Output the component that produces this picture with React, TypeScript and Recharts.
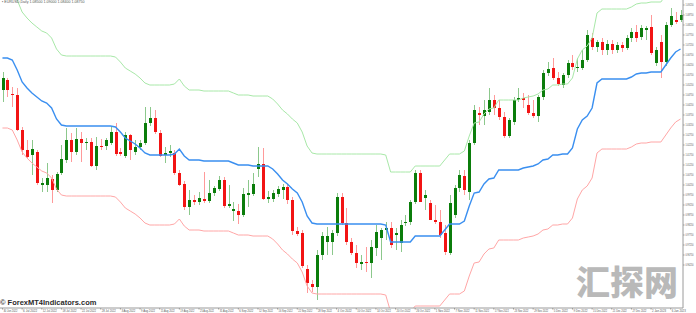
import { ComposedChart, Bar, Line, XAxis, YAxis } from 'recharts';

// EURUSD daily
const dateLabels = [
  '30 Jun 2022', '6 Jul 2022', '12 Jul 2022', '18 Jul 2022', '22 Jul 2022', '28 Jul 2022',
  '3 Aug 2022', '9 Aug 2022', '15 Aug 2022', '19 Aug 2022', '25 Aug 2022', '31 Aug 2022',
  '6 Sep 2022', '12 Sep 2022', '16 Sep 2022', '22 Sep 2022', '28 Sep 2022', '4 Oct 2022',
  '10 Oct 2022', '14 Oct 2022', '20 Oct 2022', '26 Oct 2022', '1 Nov 2022', '7 Nov 2022',
  '11 Nov 2022', '17 Nov 2022', '23 Nov 2022', '29 Nov 2022', '5 Dec 2022', '9 Dec 2022',
  '15 Dec 2022', '21 Dec 2022', '27 Dec 2022', '2 Jan 2023', '6 Jan 2023',
];

const priceTicks = [
  1.0925, 1.0875, 1.0825, 1.0775, 1.0725, 1.0675, 1.0625, 1.0575, 1.0525, 1.0475,
  1.0425, 1.0375, 1.0325, 1.0275, 1.0225, 1.0175, 1.0125, 1.0075, 1.0025, 0.9975,
  0.9925, 0.9875, 0.9825, 0.9775, 0.9725, 0.9675, 0.9625,
];

const open = [
  1.0500, 1.0550, 1.0480, 1.0475, 1.0300, 1.0200, 1.0175, 1.0190, 1.0025, 1.0025,
  1.0055, 1.0000, 1.0085, 1.0150, 1.0250, 1.0190, 1.0255, 1.0235, 1.0240, 1.0120,
  1.0220, 1.0220, 1.0235, 1.0290, 1.0190, 1.0170, 1.0275, 1.0190, 1.0215, 1.0235,
  1.0335, 1.0360, 1.0285, 1.0175, 1.0185, 1.0185, 1.0085, 1.0030, 0.9915, 0.9950,
  0.9940, 0.9955, 0.9945, 0.9985, 1.0005, 1.0050, 0.9920, 0.9895, 0.9895, 0.9875,
  0.9975, 0.9980, 1.0105, 1.0130, 0.9955, 0.9955, 0.9980, 1.0000, 1.0015, 0.9950,
  0.9795, 0.9785, 0.9605, 0.9530, 0.9515, 0.9675, 0.9740, 0.9740, 0.9785, 0.9965,
  0.9835, 0.9740, 0.9685, 0.9630, 0.9640, 0.9635, 0.9710, 0.9760, 0.9800, 0.9810,
  0.9775, 0.9735, 0.9835, 0.9840, 0.9940, 1.0085, 0.9960, 0.9935, 0.9850, 0.9840,
  0.9785, 0.9685, 0.9875, 1.0010, 1.0070, 0.9990, 1.0235, 1.0385, 1.0370, 1.0390,
  1.0450, 1.0410, 1.0365, 1.0270, 1.0340, 1.0450, 1.0460, 1.0425, 1.0385, 1.0370,
  1.0465, 1.0585, 1.0610, 1.0560, 1.0525, 1.0575, 1.0635, 1.0610, 1.0610, 1.0650,
  1.0760, 1.0715, 1.0740, 1.0700, 1.0730, 1.0700, 1.0725, 1.0710, 1.0760, 1.0790,
  1.0765, 1.0800, 1.0815, 1.0635, 1.0740, 1.0640, 1.0825, 1.0850, 1.0850,
];
const high = [
  1.0590, 1.0560, 1.0515, 1.0510, 1.0315, 1.0250, 1.0250, 1.0200, 1.0060, 1.0135,
  1.0075, 1.0090, 1.0225, 1.0310, 1.0285, 1.0310, 1.0290, 1.0260, 1.0260, 1.0265,
  1.0255, 1.0260, 1.0315, 1.0335, 1.0210, 1.0290, 1.0280, 1.0250, 1.0250, 1.0415,
  1.0415, 1.0400, 1.0300, 1.0215, 1.0225, 1.0200, 1.0100, 1.0045, 1.0000, 0.9975,
  0.9990, 1.0090, 1.0050, 1.0020, 1.0070, 1.0065, 1.0025, 0.9940, 0.9930, 1.0010,
  1.0050, 1.0085, 1.0215, 1.0210, 0.9995, 1.0000, 1.0020, 1.0030, 1.0030, 0.9965,
  0.9815, 0.9800, 0.9625, 0.9550, 0.9700, 0.9790, 0.9815, 0.9800, 0.9985, 0.9985,
  0.9910, 0.9760, 0.9725, 0.9675, 0.9715, 0.9750, 0.9825, 0.9810, 0.9840, 0.9840,
  0.9810, 0.9850, 0.9875, 0.9950, 1.0100, 1.0100, 1.0000, 0.9950, 0.9925, 0.9900,
  0.9825, 0.9975, 1.0025, 1.0100, 1.0100, 1.0250, 1.0425, 1.0415, 1.0450, 1.0510,
  1.0475, 1.0450, 1.0390, 1.0360, 1.0465, 1.0510, 1.0485, 1.0475, 1.0450, 1.0475,
  1.0600, 1.0640, 1.0660, 1.0590, 1.0585, 1.0650, 1.0675, 1.0660, 1.0700, 1.0800,
  1.0785, 1.0750, 1.0760, 1.0750, 1.0750, 1.0740, 1.0740, 1.0775, 1.0810, 1.0825,
  1.0825, 1.0820, 1.0875, 1.0715, 1.0775, 1.0840, 1.0910, 1.0890, 1.0900,
];
const low = [
  1.0440, 1.0465, 1.0415, 1.0295, 1.0175, 1.0160, 1.0075, 1.0025, 0.9990, 0.9990,
  0.9935, 0.9990, 1.0075, 1.0135, 1.0140, 1.0175, 1.0140, 1.0200, 1.0115, 1.0100,
  1.0200, 1.0200, 1.0225, 1.0170, 1.0170, 1.0160, 1.0150, 1.0175, 1.0200, 1.0225,
  1.0320, 1.0280, 1.0165, 1.0135, 1.0165, 1.0075, 1.0020, 0.9900, 0.9875, 0.9925,
  0.9925, 0.9935, 0.9935, 0.9970, 0.9995, 0.9910, 0.9910, 0.9845, 0.9830, 0.9865,
  0.9915, 0.9970, 1.0065, 0.9950, 0.9935, 0.9940, 0.9965, 0.9955, 0.9930, 0.9775,
  0.9770, 0.9610, 0.9485, 0.9490, 0.9450, 0.9650, 0.9675, 0.9675, 0.9770, 0.9825,
  0.9725, 0.9675, 0.9610, 0.9600, 0.9590, 0.9560, 0.9670, 0.9650, 0.9750, 0.9710,
  0.9700, 0.9690, 0.9820, 0.9825, 0.9930, 0.9940, 0.9900, 0.9850, 0.9830, 0.9760,
  0.9675, 0.9675, 0.9860, 0.9990, 0.9975, 0.9950, 1.0225, 1.0325, 1.0325, 1.0375,
  1.0375, 1.0350, 1.0260, 1.0260, 1.0325, 1.0440, 1.0410, 1.0375, 1.0360, 1.0340,
  1.0450, 1.0570, 1.0550, 1.0520, 1.0510, 1.0560, 1.0600, 1.0590, 1.0600, 1.0640,
  1.0700, 1.0690, 1.0675, 1.0675, 1.0680, 1.0685, 1.0690, 1.0700, 1.0740, 1.0740,
  1.0750, 1.0750, 1.0675, 1.0620, 1.0560, 1.0620, 1.0815, 1.0830, 1.0840,
];
const close = [
  1.0560, 1.0500, 1.0475, 1.0300, 1.0200, 1.0165, 1.0205, 1.0035, 1.0035, 1.0060,
  1.0000, 1.0080, 1.0155, 1.0250, 1.0190, 1.0255, 1.0235, 1.0240, 1.0120, 1.0220,
  1.0215, 1.0250, 1.0290, 1.0180, 1.0180, 1.0275, 1.0200, 1.0215, 1.0235, 1.0335,
  1.0360, 1.0290, 1.0170, 1.0185, 1.0195, 1.0085, 1.0025, 0.9915, 0.9950, 0.9940,
  0.9960, 0.9945, 0.9985, 1.0010, 1.0050, 0.9920, 0.9930, 0.9905, 0.9875, 0.9980,
  0.9985, 1.0030, 1.0130, 0.9955, 0.9965, 0.9985, 1.0005, 1.0015, 0.9950, 0.9795,
  0.9780, 0.9620, 0.9535, 0.9515, 0.9675, 0.9770, 0.9770, 0.9785, 0.9965, 0.9835,
  0.9740, 0.9685, 0.9635, 0.9640, 0.9635, 0.9715, 0.9790, 0.9800, 0.9810, 0.9725,
  0.9785, 0.9825, 0.9840, 0.9940, 1.0085, 0.9940, 0.9975, 0.9850, 0.9840, 0.9775,
  0.9690, 0.9935, 1.0010, 1.0075, 1.0000, 1.0235, 1.0400, 1.0375, 1.0400, 1.0450,
  1.0410, 1.0365, 1.0270, 1.0350, 1.0450, 1.0460, 1.0450, 1.0385, 1.0370, 1.0465,
  1.0585, 1.0605, 1.0560, 1.0530, 1.0575, 1.0635, 1.0615, 1.0615, 1.0650, 1.0775,
  1.0715, 1.0740, 1.0700, 1.0730, 1.0700, 1.0725, 1.0710, 1.0760, 1.0790, 1.0760,
  1.0810, 1.0810, 1.0685, 1.0700, 1.0640, 1.0825, 1.0870, 1.0840, 1.0875,
];

const upper = [
  1.1010, 1.1010, 1.1000, 1.0950, 1.0890, 1.0860, 1.0835, 1.0815, 1.0795, 1.0785,
  1.0760, 1.0705, 1.0675, 1.0670, 1.0670, 1.0670, 1.0670, 1.0670, 1.0670, 1.0670,
  1.0670, 1.0670, 1.0670, 1.0665, 1.0640, 1.0610, 1.0595, 1.0580, 1.0560, 1.0535,
  1.0525, 1.0525, 1.0525, 1.0525, 1.0525, 1.0530, 1.0555, 1.0520, 1.0500, 1.0500,
  1.0500, 1.0495, 1.0495, 1.0495, 1.0495, 1.0495, 1.0495, 1.0485, 1.0475, 1.0475,
  1.0475, 1.0470, 1.0470, 1.0470, 1.0470, 1.0455, 1.0430, 1.0400, 1.0380, 1.0355,
  1.0335, 1.0290, 1.0220, 1.0185, 1.0180, 1.0180, 1.0180, 1.0180, 1.0180, 1.0180,
  1.0180, 1.0180, 1.0180, 1.0180, 1.0180, 1.0180, 1.0180, 1.0180, 1.0175, 1.0090,
  1.0090, 1.0090, 1.0090, 1.0090, 1.0120, 1.0120, 1.0120, 1.0120, 1.0120, 1.0120,
  1.0150, 1.0180, 1.0180, 1.0180, 1.0195, 1.0270, 1.0335, 1.0340, 1.0380, 1.0405,
  1.0410, 1.0450, 1.0450, 1.0450, 1.0450, 1.0450, 1.0460, 1.0465, 1.0470, 1.0480,
  1.0500, 1.0505, 1.0525, 1.0525, 1.0530, 1.0530, 1.0560, 1.0655, 1.0700, 1.0720,
  1.0760, 1.0885, 1.0905, 1.0905, 1.0905, 1.0905, 1.0905, 1.0905, 1.0915, 1.0930,
  1.0935, 1.0935, 1.0940, 1.0940, 1.0940, 1.0975, 1.1010, 1.1040, 1.1055,
];
const middle = [
  1.0660, 1.0660, 1.0650, 1.0600, 1.0540, 1.0510, 1.0485, 1.0465, 1.0445, 1.0435,
  1.0410, 1.0355, 1.0325, 1.0320, 1.0320, 1.0320, 1.0320, 1.0320, 1.0320, 1.0320,
  1.0320, 1.0320, 1.0320, 1.0315, 1.0290, 1.0260, 1.0245, 1.0230, 1.0210, 1.0185,
  1.0175, 1.0175, 1.0175, 1.0175, 1.0175, 1.0180, 1.0205, 1.0170, 1.0150, 1.0150,
  1.0150, 1.0145, 1.0145, 1.0145, 1.0145, 1.0145, 1.0145, 1.0135, 1.0125, 1.0125,
  1.0125, 1.0120, 1.0120, 1.0120, 1.0120, 1.0105, 1.0080, 1.0050, 1.0030, 1.0005,
  0.9985, 0.9940, 0.9870, 0.9835, 0.9830, 0.9830, 0.9830, 0.9830, 0.9830, 0.9830,
  0.9830, 0.9830, 0.9830, 0.9830, 0.9830, 0.9830, 0.9830, 0.9830, 0.9825, 0.9740,
  0.9740, 0.9740, 0.9740, 0.9740, 0.9770, 0.9770, 0.9770, 0.9770, 0.9770, 0.9770,
  0.9800, 0.9830, 0.9830, 0.9830, 0.9845, 0.9920, 0.9985, 0.9990, 1.0030, 1.0055,
  1.0060, 1.0100, 1.0100, 1.0100, 1.0100, 1.0100, 1.0110, 1.0115, 1.0120, 1.0130,
  1.0150, 1.0155, 1.0175, 1.0175, 1.0180, 1.0180, 1.0210, 1.0305, 1.0350, 1.0370,
  1.0410, 1.0535, 1.0555, 1.0555, 1.0555, 1.0555, 1.0555, 1.0555, 1.0565, 1.0580,
  1.0585, 1.0585, 1.0590, 1.0590, 1.0590, 1.0625, 1.0660, 1.0690, 1.0705,
];
const lower = [
  1.0310, 1.0310, 1.0300, 1.0250, 1.0190, 1.0160, 1.0135, 1.0115, 1.0095, 1.0085,
  1.0060, 1.0005, 0.9975, 0.9970, 0.9970, 0.9970, 0.9970, 0.9970, 0.9970, 0.9970,
  0.9970, 0.9970, 0.9970, 0.9965, 0.9940, 0.9910, 0.9895, 0.9880, 0.9860, 0.9835,
  0.9825, 0.9825, 0.9825, 0.9825, 0.9825, 0.9830, 0.9855, 0.9820, 0.9800, 0.9800,
  0.9800, 0.9795, 0.9795, 0.9795, 0.9795, 0.9795, 0.9795, 0.9785, 0.9775, 0.9775,
  0.9775, 0.9770, 0.9770, 0.9770, 0.9770, 0.9755, 0.9730, 0.9700, 0.9680, 0.9655,
  0.9635, 0.9590, 0.9520, 0.9485, 0.9480, 0.9480, 0.9480, 0.9480, 0.9480, 0.9480,
  0.9480, 0.9480, 0.9480, 0.9480, 0.9480, 0.9480, 0.9480, 0.9480, 0.9475, 0.9390,
  0.9390, 0.9390, 0.9390, 0.9390, 0.9420, 0.9420, 0.9420, 0.9420, 0.9420, 0.9420,
  0.9450, 0.9480, 0.9480, 0.9480, 0.9495, 0.9570, 0.9635, 0.9640, 0.9680, 0.9705,
  0.9710, 0.9750, 0.9750, 0.9750, 0.9750, 0.9750, 0.9760, 0.9765, 0.9770, 0.9780,
  0.9800, 0.9805, 0.9825, 0.9825, 0.9830, 0.9830, 0.9860, 0.9955, 1.0000, 1.0020,
  1.0060, 1.0185, 1.0205, 1.0205, 1.0205, 1.0205, 1.0205, 1.0205, 1.0215, 1.0230,
  1.0235, 1.0235, 1.0240, 1.0240, 1.0240, 1.0275, 1.0310, 1.0340, 1.0355,
];

const data = open.map((o, i) => ({
  idx: i,
  open: o,
  high: high[i],
  low: low[i],
  close: close[i],
  upper: upper[i],
  middle: middle[i],
  lower: lower[i],
}));

const font = '"Liberation Sans", "DejaVu Sans", sans-serif';

function Candle(props: any) {
  const { x, y, width, height, payload } = props;
  if (!payload) return null;
  const top = Math.min(y, y + height);
  const h = Math.abs(height);
  const range = payload.high - payload.low;
  const k = range > 0 ? h / range : 0;
  const bodyTop = top + (payload.high - Math.max(payload.open, payload.close)) * k;
  const bodyH = Math.max(1, Math.abs(payload.open - payload.close) * k);
  const up = payload.close >= payload.open;
  const cx = Math.round(x + width / 2) + 0.5;
  return (
    <g>
      <line x1={cx} x2={cx} y1={top} y2={top + h} stroke={up ? '#8cc88c' : '#ff9a9a'} strokeWidth={1} />
      <rect x={cx - 1.5} y={bodyTop} width={3} height={bodyH} fill={up ? '#0b7d0b' : '#f21414'} />
    </g>
  );
}

function DateTick(props: any) {
  const { x, y, payload } = props;
  const label = dateLabels[payload.value / 4];
  return (
    <g>
      <line x1={x} x2={x} y1={y} y2={y + 1.5} stroke="#999" />
      <text
        x={x + 1}
        y={y + 4.3}
        fontSize={3.4}
        fill="#555"
        fontFamily={font}
        textAnchor="start"
        textLength={14}
        lengthAdjust="spacingAndGlyphs"
      >
        {label}
      </text>
    </g>
  );
}

function PriceTick(props: any) {
  const { x, y, payload } = props;
  return (
    <g>
      <line x1={x - 2.5} x2={x - 1} y1={y} y2={y} stroke="#999" />
      <text
        x={x}
        y={y + 1.3}
        fontSize={3.2}
        fill="#555"
        fontFamily={font}
        textAnchor="start"
        textLength={8}
        lengthAdjust="spacingAndGlyphs"
      >
        {Number(payload.value).toFixed(5)}
      </text>
    </g>
  );
}

export default function App() {
  return (
    <div style={{ position: 'absolute', left: 0, top: 0, width: 696, height: 313, background: '#fff', overflow: 'hidden' }}>
      <ComposedChart width={696} height={313} data={data} margin={{ top: 0, right: 0, bottom: 0, left: 0 }} barCategoryGap={0}>
        <XAxis
          dataKey="idx"
          type="category"
          height={5}
          ticks={dateLabels.map((_, k) => k * 4)}
          interval={0}
          tick={<DateTick />}
          tickLine={false}
          tickSize={0}
          tickMargin={0}
          axisLine={{ stroke: '#9a9a9a' }}
        />
        <YAxis
          orientation="right"
          width={13}
          domain={[0.941, 1.095]}
          allowDataOverflow
          ticks={priceTicks}
          interval={0}
          tick={<PriceTick />}
          tickLine={false}
          tickSize={0}
          tickMargin={2.5}
          axisLine={{ stroke: '#9a9a9a' }}
        />
        <Line dataKey="upper" type="linear" stroke="#a8e8a8" strokeWidth={1} dot={false} activeDot={false} isAnimationActive={false} />
        <Line dataKey="lower" type="linear" stroke="#ffa6a6" strokeWidth={1} dot={false} activeDot={false} isAnimationActive={false} />
        <Line dataKey="middle" type="linear" stroke="#3a8ff0" strokeWidth={1.4} dot={false} activeDot={false} isAnimationActive={false} />
        <Bar
          dataKey={(d: any) => [d.low, d.high]}
          barSize={3}
          shape={(p: any) => <Candle {...p} />}
          activeBar={false}
          isAnimationActive={false}
        />
      </ComposedChart>
      <div style={{ position: 'absolute', left: 2, top: 0, fontFamily: font, fontSize: 3.6, color: '#555', whiteSpace: 'nowrap' }}>
        ▪ EURUSD,Daily  1.08500 1.09000 1.08400 1.08750
      </div>
      <div style={{ position: 'absolute', left: 0, top: 298, fontFamily: '"Liberation Sans", sans-serif', fontWeight: 700, fontSize: 7.5, color: '#2a2a2a', whiteSpace: 'nowrap' }}>
        © ForexMT4Indicators.com
      </div>
      <div style={{ position: 'absolute', left: 576, top: 259, fontFamily: '"Noto Sans CJK SC", sans-serif', fontWeight: 900, fontSize: 34, lineHeight: '44px', color: '#b9b9b9', whiteSpace: 'nowrap' }}>
        汇探网
      </div>
    </div>
  );
}
